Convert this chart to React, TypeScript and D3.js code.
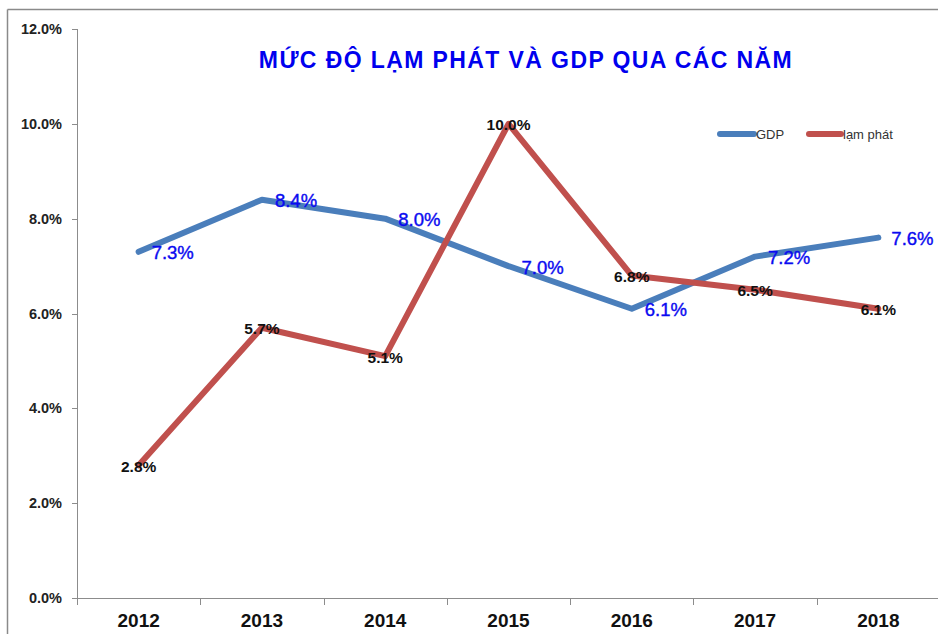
import React from "react";
import * as d3 from "d3";

const years = ["2012", "2013", "2014", "2015", "2016", "2017", "2018"];
const gdp = [7.3, 8.4, 8.0, 7.0, 6.1, 7.2, 7.6];
const inflation = [2.8, 5.7, 5.1, 10.0, 6.8, 6.5, 6.1];
const yTicks = [0, 2, 4, 6, 8, 10, 12];
const seriesNames = ["GDP", "lạm phát"];
const title = "MỨC ĐỘ LẠM PHÁT VÀ GDP QUA CÁC NĂM";

const W = 938;
const H = 634;
const left = 77;
const right = 940;
const top = 29;
const bottom = 598;
const blue = "#4A7EBB";
const red = "#C0504D";

export default function App() {
  const x = d3.scaleBand<string>().domain(years).range([left, right]).padding(0);
  const y = d3.scaleLinear().domain([0, 12]).range([bottom, top]);
  const cx = (i: number) => (x(years[i]) as number) + x.bandwidth() / 2;
  const line = d3
    .line<number>()
    .x((_, i) => cx(i))
    .y((d) => y(d));
  const boundaries = years.map((yr) => x(yr) as number).concat([right]);

  return (
    <svg
      width={W}
      height={H}
      style={{ position: "absolute", left: 0, top: 0, display: "block", background: "#fff" }}
    >
      {/* outer frame */}
      <line x1={7.5} y1={9.5} x2={W} y2={9.5} stroke="#8a8a8a" strokeWidth={1.5} />
      <line x1={7.5} y1={9.5} x2={7.5} y2={H} stroke="#8a8a8a" strokeWidth={1.5} />

      {/* y axis */}
      <line x1={left + 0.5} y1={top} x2={left + 0.5} y2={bottom + 7} stroke="#8c8c8c" strokeWidth={1} />
      {yTicks.map((t) => (
        <g key={t}>
          <line x1={left - 5} x2={left} y1={Math.round(y(t)) + 0.5} y2={Math.round(y(t)) + 0.5} stroke="#8c8c8c" />
          <text
            x={62}
            y={y(t)}
            textAnchor="end"
            dominantBaseline="central"
            fontFamily="Liberation Sans, Arial"
            fontWeight="bold"
            fontSize={14.5}
            fill="#222"
          >
            {t.toFixed(1) + "%"}
          </text>
        </g>
      ))}

      {/* x axis */}
      <line x1={left} x2={W} y1={bottom + 0.5} y2={bottom + 0.5} stroke="#8c8c8c" />
      {boundaries.map((b, i) => (
        <line key={i} x1={Math.round(b) + 0.5} x2={Math.round(b) + 0.5} y1={bottom} y2={bottom + 7} stroke="#8c8c8c" />
      ))}
      {years.map((yr, i) => (
        <text
          key={yr}
          x={cx(i)}
          y={620}
          textAnchor="middle"
          dominantBaseline="central"
          fontFamily="Liberation Sans, Arial"
          fontWeight="bold"
          fontSize={19}
          fill="#111"
        >
          {yr}
        </text>
      ))}

      {/* title */}
      <text
        x={526}
        y={60}
        textAnchor="middle"
        dominantBaseline="central"
        fontFamily="Liberation Sans, Arial"
        fontWeight="bold"
        fontSize={23}
        letterSpacing={1.4}
        fill="#0000EE"
      >
        {title}
      </text>

      {/* lines */}
      <path d={line(gdp) as string} fill="none" stroke={blue} strokeWidth={6} strokeLinejoin="round" strokeLinecap="round" />
      <path d={line(inflation) as string} fill="none" stroke={red} strokeWidth={6} strokeLinejoin="round" strokeLinecap="round" />

      {/* GDP labels */}
      {gdp.map((v, i) => (
        <text
          key={"g" + i}
          x={cx(i) + 13}
          y={y(v) + 1}
          dominantBaseline="central"
          fontFamily="Liberation Sans, Arial"
          fontSize={18.5}
          stroke="#0A0AF0"
          strokeWidth={0.4}
          fill="#0A0AF0"
        >
          {v.toFixed(1) + "%"}
        </text>
      ))}

      {/* inflation labels */}
      {inflation.map((v, i) => (
        <text
          key={"r" + i}
          x={cx(i)}
          y={y(v) + 1}
          textAnchor="middle"
          dominantBaseline="central"
          fontFamily="Liberation Sans, Arial"
          fontWeight="bold"
          fontSize={15.5}
          fill="#111"
        >
          {v.toFixed(1) + "%"}
        </text>
      ))}

      {/* legend */}
      <line x1={720} x2={754} y1={134} y2={134} stroke={blue} strokeWidth={6} strokeLinecap="round" />
      <text x={756} y={134} dominantBaseline="central" fontFamily="Liberation Sans, Arial" fontSize={13} fill="#333">
        {seriesNames[0]}
      </text>
      <line x1={809} x2={841} y1={134} y2={134} stroke={red} strokeWidth={6} strokeLinecap="round" />
      <text x={843} y={134} dominantBaseline="central" fontFamily="Liberation Sans, Arial" fontSize={13} fill="#333">
        {seriesNames[1]}
      </text>
    </svg>
  );
}
